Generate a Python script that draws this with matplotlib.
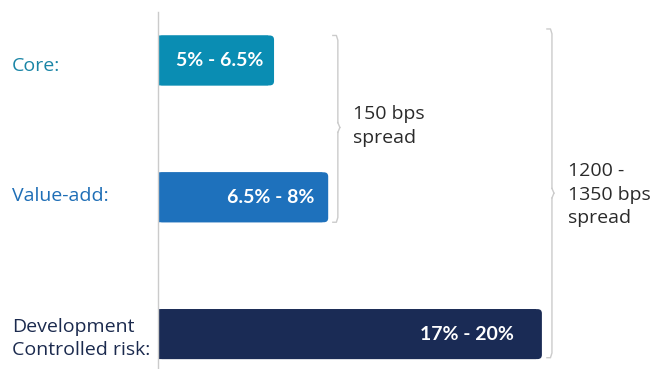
import matplotlib.pyplot as plt
from matplotlib.patches import FancyBboxPatch, Rectangle

plt.rcParams["font.family"] = ["Open Sans", "DejaVu Sans"]

# data
categories = ["Core:", "Value-add:", "Development\nControlled risk:"]
ranges = ["5% - 6.5%", "6.5% - 8%", "17% - 20%"]
bar_length = [6.0, 8.8, 19.85]   # schematic bar lengths
spreads = ["150 bps\nspread", "1200 -\n1350 bps\nspread"]

bar_colors = ["#0A8DB3", "#1E71BC", "#1A2B55"]
text_colors = ["#1A85A6", "#1E6EB6", "#1B2A4E"]
label_pad = [-11, -14, -28]
grey = "#CBCBCB"

fig = plt.figure(figsize=(6.57, 3.69), dpi=100)
ax = fig.add_axes([158 / 657, 0, 499 / 657, 357 / 369])
ax.set_xlim(0, 499 / 19.34)
ax.set_ylim(2.255, -0.354)

h = 0.365
px_x, px_y = 19.34, 137.0
for i, (L, c) in enumerate(zip(bar_length, bar_colors)):
    box = FancyBboxPatch((0, i - h / 2), L, h,
                         boxstyle="round,pad=0,rounding_size=0.22",
                         mutation_aspect=px_x / px_y, fc=c, ec="none", snap=False)
    ax.add_patch(box)
    ax.add_patch(Rectangle((0, i - h / 2), L - 0.3, h, fc=c, ec="none", snap=False))
    ax.annotate(ranges[i], (L, i), xytext=(label_pad[i], 0), textcoords="offset pixels",
                ha="right", va="center", color="white", fontsize=14,
                fontweight="bold", family=["Lato", "DejaVu Sans"])

# category labels
for i, (lab, tc) in enumerate(zip(categories, text_colors)):
    dy = [0.04, -0.01, 0.03][i]
    ax.text(-146 / 499, i + dy, lab, transform=ax.get_yaxis_transform(),
            ha="left", va="center", color=tc, fontsize=14, linespacing=1.38)


def bracket(x, y0, y1, ym):
    hw, hh = 0.26, 0.035
    ax.plot([x - hw, x - hw * 0.3, x, x], [y0, y0, y0 + hh, ym - hh], color=grey, lw=1)
    ax.plot([x, x + hw * 0.4], [ym - hh, ym], color=grey, lw=1)
    ax.plot([x + hw * 0.4, x], [ym, ym + hh], color=grey, lw=1)
    ax.plot([x, x, x - hw * 0.3, x - hw], [ym + hh, y1 - hh, y1, y1], color=grey, lw=1)


bracket(9.3, -h / 2, 1 + h / 2, 0.49)
bracket(20.37, -0.23, 2 + h / 2 - 0.01, 0.97)

ax.text(10.1, 0.48, spreads[0], ha="left", va="center", color="#2A2A2A",
        fontsize=14, linespacing=1.38)
ax.text(21.2, 0.98, spreads[1], ha="left", va="center", color="#2A2A2A",
        fontsize=14, linespacing=1.38)

for s in ["top", "right", "bottom"]:
    ax.spines[s].set_visible(False)
ax.spines["left"].set_color(grey)
ax.spines["left"].set_linewidth(1)
ax.set_xticks([])
ax.set_yticks([])
ax.patch.set_visible(False)

fig.savefig("out.png", dpi=100)
